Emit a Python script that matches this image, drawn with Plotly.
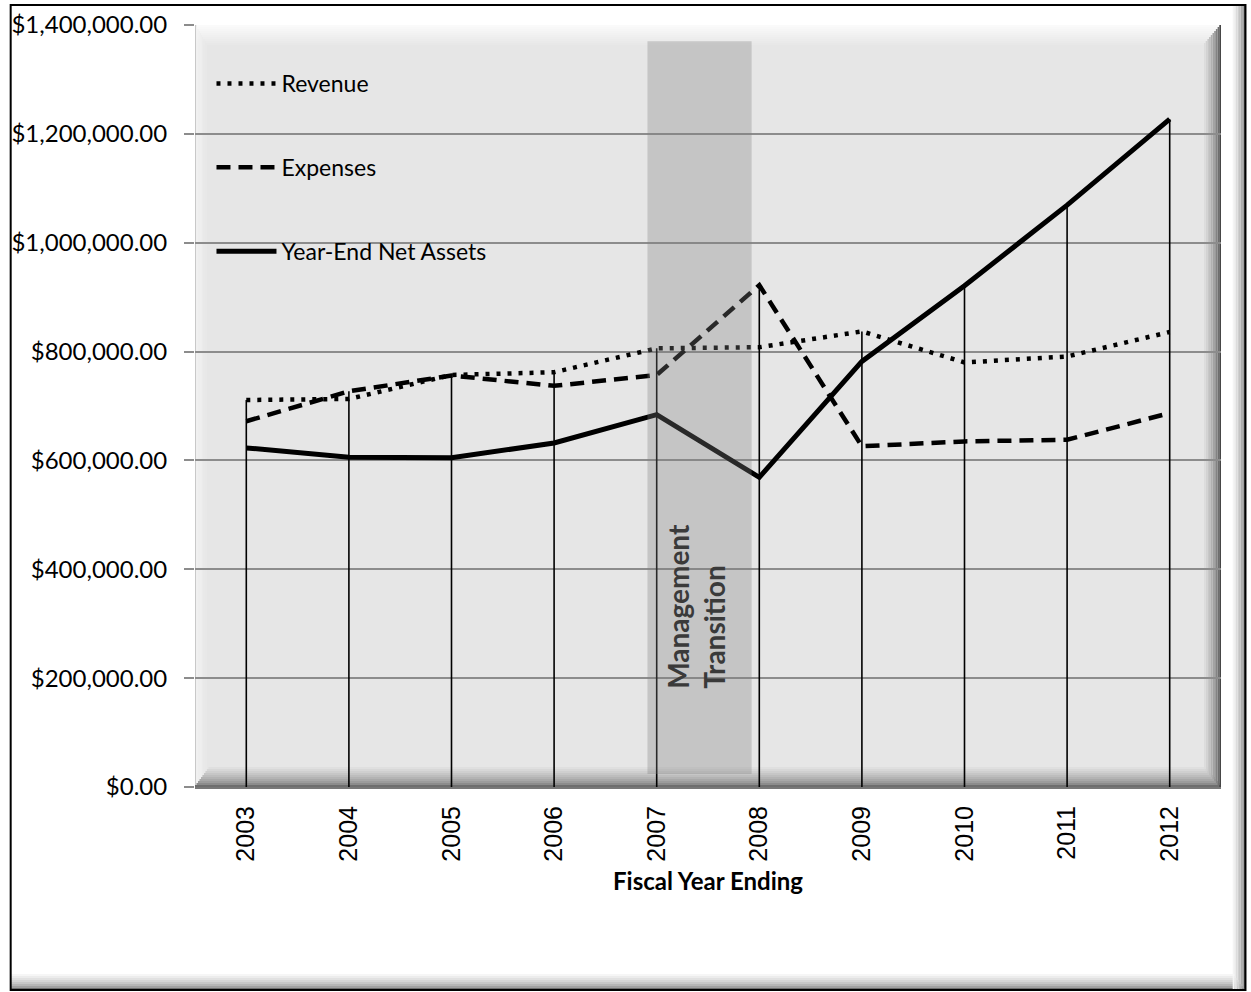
import plotly.graph_objects as go

# ---------------- data ----------------
years = ["2003", "2004", "2005", "2006", "2007", "2008", "2009", "2010", "2011", "2012"]
revenue = [711000, 713000, 757000, 762000, 806000, 808000, 837000, 780000, 791000, 836000]
expenses = [672000, 727000, 756000, 737000, 757000, 922000, 626000, 635000, 638000, 687000]
net_assets = [623000, 606000, 605000, 632000, 684000, 569000, 782000, 921000, 1069000, 1227000]
y_ticks = [0, 200000, 400000, 600000, 800000, 1000000, 1200000, 1400000]
y_tick_labels = ["$" + format(v, ",.2f") for v in y_ticks]

# ---------------- geometry (screen pixels; body margin removed by post_script) ----------------
W, H = 1251, 992
L, R, T, B = 194.5, 1221.5, 25, 787
PW, PH = R - L, B - T


def px(xs):
    return (xs - L) / PW


def py(ys):
    return (B - ys) / PH


fig = go.Figure()

# drop lines from the highest series value to the axis
top_vals = [max(a, b, c) for a, b, c in zip(revenue, expenses, net_assets)]
dx, dy = [], []
for yr, v in zip(years, top_vals):
    dx += [yr, yr, None]
    dy += [0, v, None]
fig.add_trace(go.Scatter(x=dx, y=dy, mode="lines", line=dict(color="black", width=1.6),
                         showlegend=False, hoverinfo="skip"))

fig.add_trace(go.Scatter(x=years, y=revenue, name="Revenue", mode="lines",
                         line=dict(color="black", width=4.5, dash="4px,7px"),
                         legendgroup="a"))
fig.add_trace(go.Scatter(x=years, y=expenses, name="Expenses", mode="lines",
                         line=dict(color="black", width=4.5, dash="14px,8px"),
                         legendgroup="b"))
fig.add_trace(go.Scatter(x=years, y=net_assets, name="Year-End Net Assets", mode="lines",
                         line=dict(color="black", width=5),
                         legendgroup="c"))

shapes = []


def rect(x0, y0, x1, y1, color, layer="below"):
    shapes.append(dict(type="rect", xref="paper", yref="paper",
                       x0=px(x0), x1=px(x1), y0=py(y1), y1=py(y0),
                       fillcolor=color, line=dict(width=0), layer=layer))


def mix(c1, c2, t):
    return "rgb(%d,%d,%d)" % tuple(round(a + (b - a) * t) for a, b in zip(c1, c2))


bg = (230, 230, 230)
n = 10
# top bevel (lighter)
for i in range(n):
    t = i / n
    rect(L, T + i * 2, R, T + i * 2 + 2, mix((250, 250, 250), bg, t))
# left bevel
for i in range(n):
    t = i / n
    rect(L + i * 1.2, T + i * 2, L + i * 1.2 + 1.2, B - i * 2,
         mix((200, 200, 200) if i == 0 else (245, 245, 245), bg, t))
# bottom bevel (darker)
for i in range(n):
    t = i / n
    rect(L + i * 1.5, B - (i + 1) * 2, R - i * 1.5, B - i * 2, mix((110, 110, 110), bg, t ** 0.6))
# right bevel (darker)
for i in range(n):
    t = i / n
    rect(R - (i + 1) * 1.7, T + i * 2, R - i * 1.7, B - i * 2, mix((70, 70, 70), bg, t ** 0.6))

# outer frame shadow and border
for i in range(8):
    t = i / 8
    rect(1246 - (i + 1) * 1.6, 5, 1246 - i * 1.6, 990, mix((90, 90, 90), (255, 255, 255), t ** 0.5))
    rect(10, 990 - (i + 1) * 2, 1246 - i * 1.6, 990 - i * 2, mix((110, 110, 110), (255, 255, 255), t ** 0.5))
shapes.append(dict(type="rect", xref="paper", yref="paper",
                   x0=px(10), x1=px(1246), y0=py(990), y1=py(5),
                   line=dict(color="black", width=2), fillcolor="rgba(0,0,0,0)", layer="above"))

# management transition band
shapes.append(dict(type="rect", xref="x", yref="y", x0=3.91, x1=4.925, y0=24000, y1=1370000,
                   fillcolor="rgba(128,128,128,0.32)", line=dict(width=0), layer="above"))

fig.update_layout(
    width=W, height=H,
    margin=dict(l=L, r=W - R, t=T, b=H - B, pad=0, autoexpand=False),
    paper_bgcolor="white",
    plot_bgcolor="rgb(230,230,230)",
    shapes=shapes,
    showlegend=True,
    legend=dict(x=px(211), y=py(62), xanchor="left", yanchor="top",
                bgcolor="rgba(0,0,0,0)", font=dict(family="Lato", size=23, color="black"),
                traceorder="grouped", tracegroupgap=51, itemwidth=60),
    annotations=[dict(x=4.38, y=177000, xref="x", yref="y", text="Management<br>Transition",
                      textangle=-90, showarrow=False, xanchor="center", yanchor="bottom",
                      align="left", font=dict(family="Lato", size=28, color="#3a3a3a", weight="bold"))],
)

fig.update_xaxes(
    type="category", range=[-0.5, 9.5], showgrid=False, zeroline=False, automargin=False,
    tickangle=-90, ticks="outside", ticklen=7, tickcolor="rgba(0,0,0,0)",
    tickfont=dict(family="Liberation Sans", size=25, color="black"),
    showline=True, linecolor="rgb(120,120,120)", linewidth=2,
    title=dict(text="Fiscal Year Ending", standoff=13,
               font=dict(family="Lato", size=24, color="black", weight="bold")),
)
fig.update_yaxes(
    range=[0, 1400000], tickvals=y_ticks, ticktext=y_tick_labels, automargin=False,
    showgrid=True, gridcolor="rgb(140,140,140)", gridwidth=1.6, zeroline=False,
    ticks="outside", ticklen=10, tickcolor="rgb(140,140,140)", tickwidth=1.6,
    ticklabelstandoff=12,
    tickfont=dict(family="Lato", size=24, color="black"),
)

fig.write_html("out.html", config={"displayModeBar": False},
               post_script="document.body.style.margin='0px';document.body.style.overflow='hidden';")
